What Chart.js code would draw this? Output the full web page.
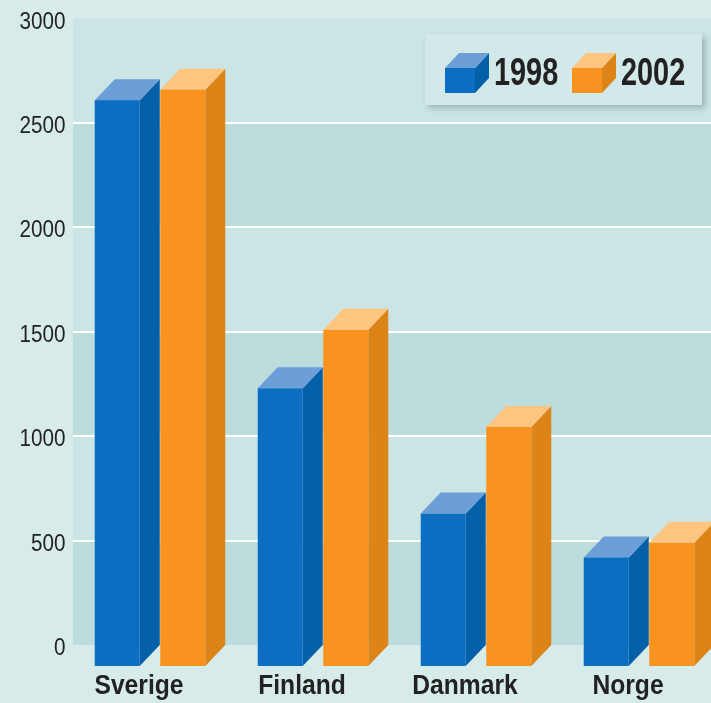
<!DOCTYPE html>
<html>
<head>
<meta charset="utf-8">
<script src="https://cdn.jsdelivr.net/npm/chart.js@4.4.1/dist/chart.umd.min.js"></script>
<style>
  html, body { margin: 0; padding: 0; overflow: hidden; background: #d8ebeb; }
  #wrap { position: relative; width: 722px; height: 703px; }
</style>
</head>
<body>
<div id="wrap"><canvas id="chart"></canvas></div>
<script>
const countries = ['Sverige', 'Finland', 'Danmark', 'Norge'];
const seriesLabels = ['1998', '2002'];
const values1998 = [2710, 1330, 730, 520];
const values2002 = [2760, 1610, 1145, 590];
const yTickStep = 500;
const yMax = 3000;

const FONT = "'Liberation Sans', Arial, sans-serif";

const COLORS = {
    page: '#d8ebeb',
    bandLight: '#cbe4e4',
    bandDark: '#bddcdc',
    grid: '#ffffff',
    text: '#222222',
    blue: { front: '#0b6ec0', side: '#0560a8', top: '#6c9fd8' },
    orange: { front: '#f7931e', side: '#dc8418', top: '#fdc57f' }
};
const barColors = [COLORS.blue, COLORS.orange];

// depth of the 3d effect
const DX = 20, DY = 21;
const WALL_INSET = 4.5;

// the original uses a condensed face; squeeze text horizontally around its anchor
const canvas = document.getElementById('chart');
const ctx2d = canvas.getContext('2d');
ctx2d.textScaleX = 0.88;
const rawFillText = ctx2d.fillText.bind(ctx2d);
ctx2d.fillText = function (text, x, y, maxWidth) {
    this.save();
    this.translate(x, y);
    this.scale(this.textScaleX, 1);
    rawFillText(text, 0, 0);
    this.restore();
};

const wallPlugin = {
    id: 'wall',
    beforeDraw(chart) {
        const { ctx, chartArea, scales } = chart;
        const y = scales.y;
        ctx.save();
        ctx.fillStyle = COLORS.page;
        ctx.fillRect(0, 0, chart.width, chart.height);
        const left = chartArea.left + WALL_INSET;
        const ticks = y.ticks.map(t => t.value);
        for (let i = 0; i < ticks.length - 1; i++) {
            const yb = y.getPixelForValue(ticks[i]);
            const yt = y.getPixelForValue(ticks[i + 1]);
            ctx.fillStyle = i % 2 === 0 ? COLORS.bandDark : COLORS.bandLight;
            ctx.fillRect(left, yt, chart.width - left, yb - yt);
        }
        ctx.strokeStyle = COLORS.grid;
        ctx.lineWidth = 2;
        ticks.slice(1, -1).forEach(v => {
            const py = Math.round(y.getPixelForValue(v));
            ctx.beginPath();
            ctx.moveTo(left, py);
            ctx.lineTo(chart.width, py);
            ctx.stroke();
        });
        ctx.restore();
    }
};

function poly(ctx, pts, color) {
    ctx.beginPath();
    ctx.moveTo(pts[0][0], pts[0][1]);
    pts.slice(1).forEach(p => ctx.lineTo(p[0], p[1]));
    ctx.closePath();
    ctx.fillStyle = color;
    ctx.fill();
}

const boxPlugin = {
    id: 'box3d',
    afterDatasetsDraw(chart) {
        const ctx = chart.ctx;
        ctx.save();
        chart.data.datasets.forEach((ds, di) => {
            const c = barColors[di];
            chart.getDatasetMeta(di).data.forEach(el => {
                const l = el.x - el.width / 2, r = el.x + el.width / 2;
                const t = el.y, b = el.base;
                poly(ctx, [[r, t + DY], [r + DX, t], [r + DX, b], [r, b + DY]], c.side);
                poly(ctx, [[l, t + DY], [l + DX, t], [r + DX, t], [r, t + DY]], c.top);
                ctx.fillStyle = c.front;
                ctx.fillRect(l, t + DY, el.width, b - t);
            });
        });
        ctx.restore();
    }
};

function cube(ctx, x, y, w, h, dx, dy, c) {
    poly(ctx, [[x + w, y], [x + w + dx, y - dy], [x + w + dx, y + h - dy], [x + w, y + h]], c.side);
    poly(ctx, [[x, y], [x + dx, y - dy], [x + w + dx, y - dy], [x + w, y]], c.top);
    ctx.fillStyle = c.front;
    ctx.fillRect(x, y, w, h);
}

const legendPlugin = {
    id: 'legend3d',
    afterDraw(chart) {
        const ctx = chart.ctx;
        ctx.save();
        ctx.shadowColor = 'rgba(60,90,90,0.35)';
        ctx.shadowBlur = 6;
        ctx.shadowOffsetX = 3;
        ctx.shadowOffsetY = 3;
        ctx.fillStyle = '#d3e9e9';
        ctx.fillRect(425, 34, 277, 71);
        ctx.restore();
        ctx.save();
        const prevScale = ctx.textScaleX;
        ctx.textScaleX = 0.74;
        [445, 572].forEach((x, i) => {
            cube(ctx, x, 68, 30, 25, 14, 15, barColors[i]);
            ctx.fillStyle = COLORS.text;
            ctx.font = 'bold 39px ' + FONT;
            ctx.textAlign = 'left';
            ctx.textBaseline = 'alphabetic';
            ctx.fillText(chart.data.datasets[i].label, x + 49, 85);
        });
        ctx.textScaleX = prevScale;
        ctx.restore();
    }
};

new Chart(canvas, {
    type: 'bar',
    data: {
        labels: countries,
        datasets: [
            { label: seriesLabels[0], data: values1998, backgroundColor: 'rgba(0,0,0,0)', borderWidth: 0 },
            { label: seriesLabels[1], data: values2002, backgroundColor: 'rgba(0,0,0,0)', borderWidth: 0 }
        ]
    },
    options: {
        responsive: true,
        maintainAspectRatio: false,
        animation: false,
        layout: { padding: { top: 18.6, left: 0, right: 1.5, bottom: 0 } },
        datasets: { bar: { categoryPercentage: 0.804, barPercentage: 0.687 } },
        plugins: { legend: { display: false }, tooltip: { enabled: false } },
        scales: {
            x: {
                offset: true,
                grid: { display: false, drawTicks: false },
                border: { display: false },
                ticks: {
                    color: COLORS.text,
                    font: { family: FONT, size: 28, weight: 'bold' },
                    padding: 24,
                    labelOffset: -11,
                    maxRotation: 0,
                    autoSkip: false
                },
                afterFit: s => { s.height = 58; }
            },
            y: {
                min: 0,
                max: yMax,
                grid: { display: false, drawTicks: false },
                border: { display: false },
                ticks: {
                    stepSize: yTickStep,
                    color: COLORS.text,
                    font: { family: FONT, size: 23.5 },
                    padding: 3,
                    labelOffset: 3.5,
                    callback: v => String(v)
                },
                afterFit: s => { s.width = 68.5; }
            }
        }
    },
    plugins: [wallPlugin, boxPlugin, legendPlugin]
});
</script>
</body>
</html>
